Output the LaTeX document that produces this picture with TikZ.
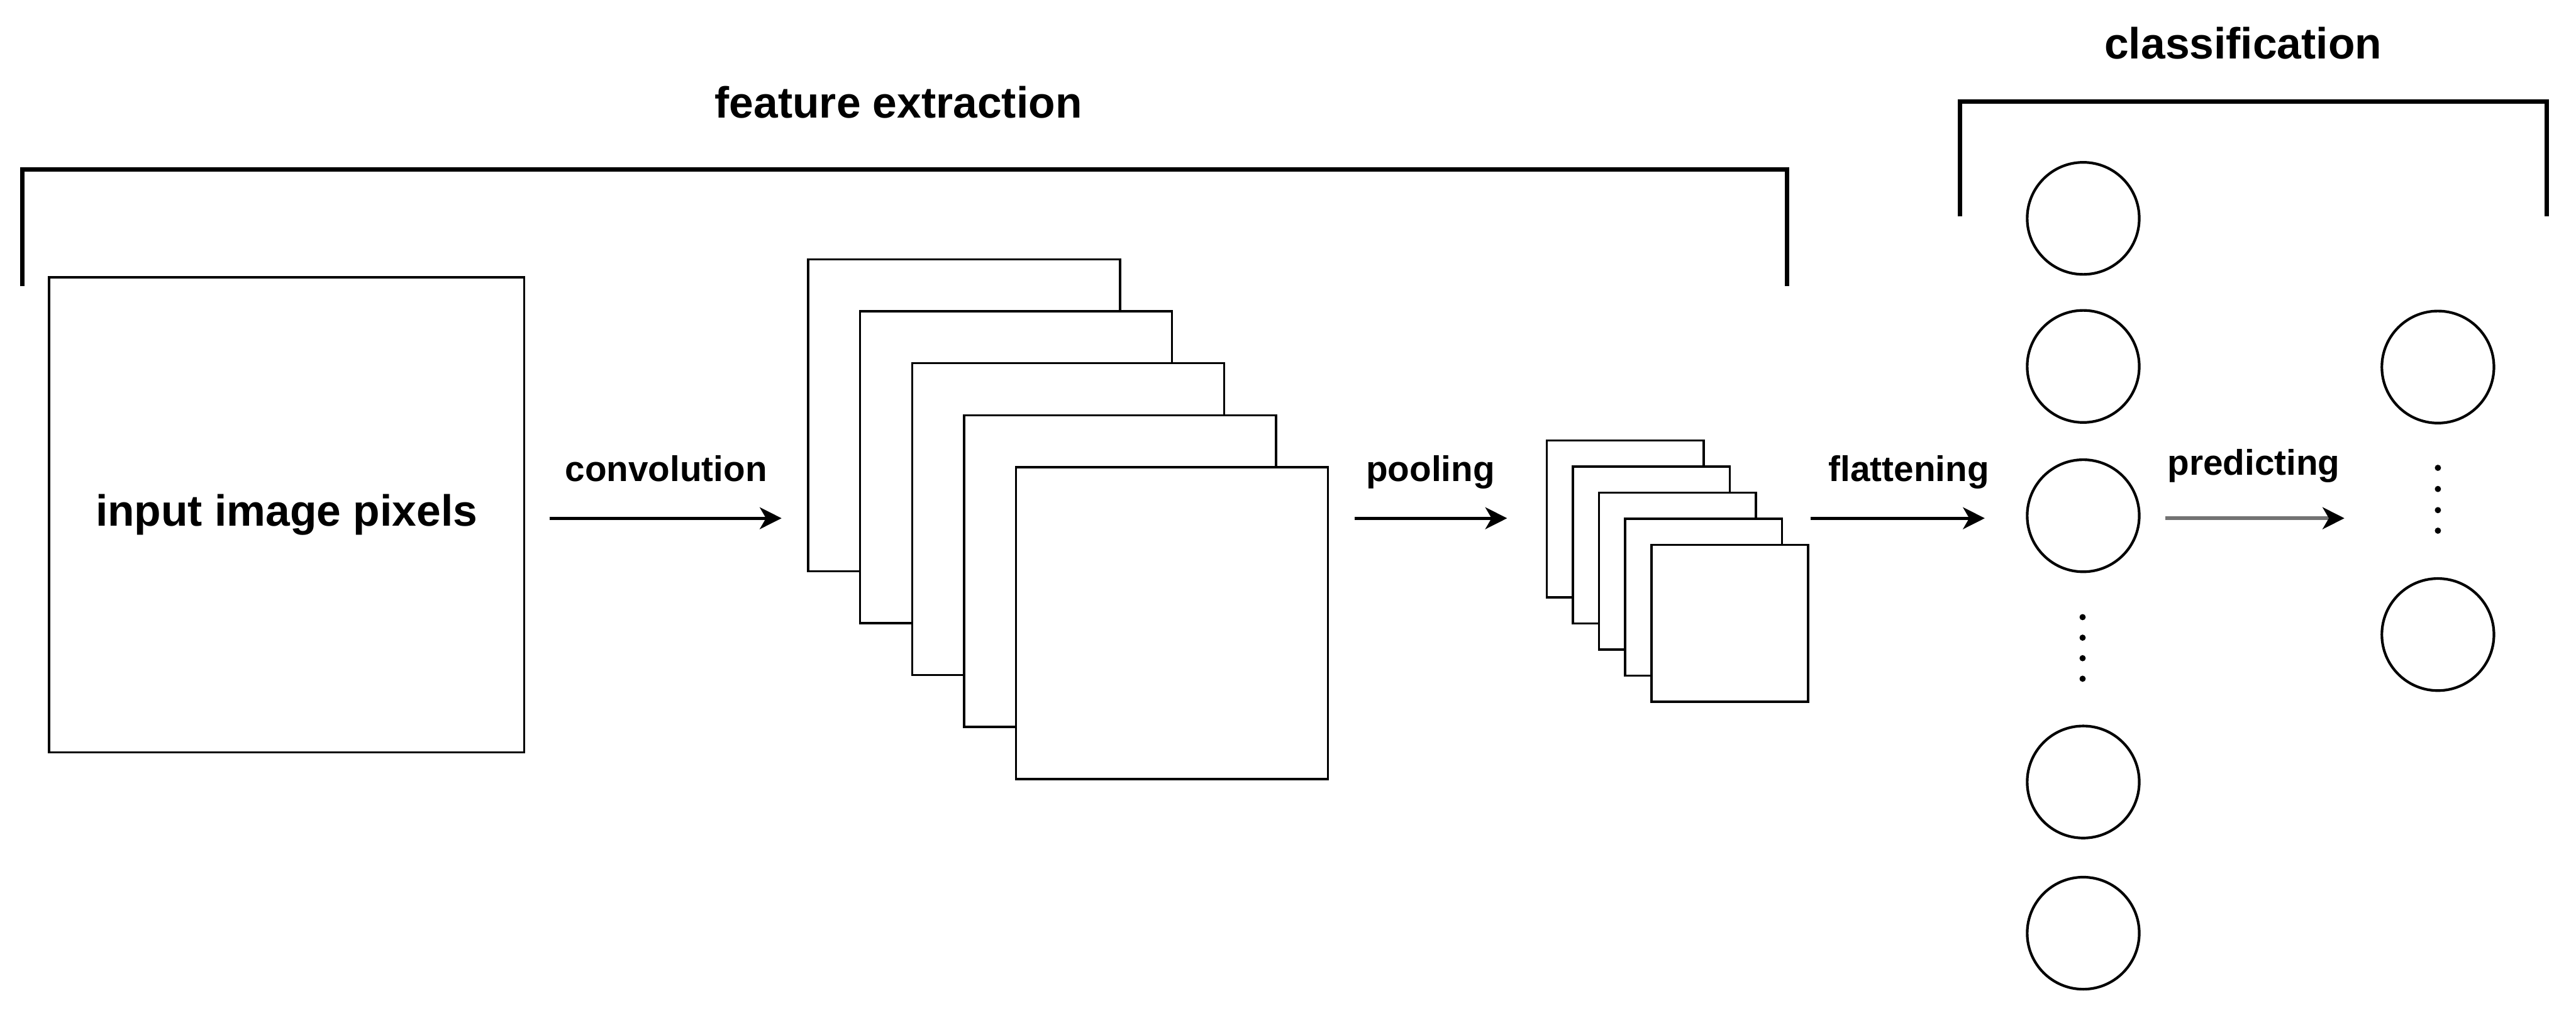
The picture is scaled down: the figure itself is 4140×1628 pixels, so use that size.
\documentclass[tikz,border=0pt]{standalone}
\usepackage{fontspec}
\setmainfont{Liberation Sans}
\usetikzlibrary{arrows.meta,positioning,calc}
\newcommand{\headfont}{\bfseries\fontsize{20}{24}\selectfont}
\newcommand{\opfont}{\bfseries\fontsize{16.3}{19}\selectfont}

\begin{document}
\begin{tikzpicture}[x=0.01cm, y=-0.01cm,
  fmap/.style={draw, fill=white, line width=1pt, minimum size=#1, inner sep=0pt},
  unit/.style={draw, circle, line width=1.2pt, minimum size=1.8cm, inner sep=0pt},
  bracket/.style={line width=2pt},
  op/.style={-{Stealth[length=0.35cm, width=0.35cm, inset=0.1cm, #1]}, line width=1.4pt},
  op/.default={},
  lbl/.style={anchor=base, yshift=#1, font=\opfont},
  lbl/.default=0.59cm,
  head/.style={anchor=base, font=\headfont}]
  \useasboundingbox (0,0) rectangle (4140,1628);
  \node[head] (fe) at (1444,190) {feature extraction};
  \node[head] (cl) at (3605,95) {classification};
  \draw[bracket] (36,460) |- (2872,272) -- (2872,460);
  \draw[bracket] (3150,348) |- (4093,163) -- (4093,348);

  \node[fmap=7.63cm, font=\headfont] (input) at (460.5,827.5) {input image pixels};
  \foreach \i in {0,...,4}
    \node[fmap=5.01cm] (conv\i) at (1549.5+83.5*\i, 667.5+83.5*\i) {};
  \foreach \i in {0,...,4}
    \node[fmap=2.52cm] (pool\i) at (2612+42*\i, 834+42*\i) {};

  \foreach \y [count=\n] in {351,589,829,1257,1500}
    \node[unit] (h\n) at (3348,\y) {};
  \node[unit] (o1) at (3918,590) {};
  \node[unit] (o2) at (3918,1020) {};
  \foreach \y in {992,1025,1058,1091} \fill (3347,\y) circle (0.05cm);
  \foreach \y in {752,786,820,853} \fill (3918,\y) circle (0.05cm);

  \coordinate (row) at (0,833);
  \draw[op, shorten <=0.39cm, shorten >=0.41cm] (input.east |- row) -- node[lbl]{convolution} (conv0.west |- row);
  \draw[op, shorten <=0.41cm, shorten >=0.62cm] (conv4.east |- row) -- node[lbl, xshift=-0.11cm]{pooling} (pool0.west |- row);
  \draw[op, shorten <=0.02cm, shorten >=0.66cm] (pool4.east |- row) -- node[lbl, xshift=-0.14cm]{flattening} (h3.west |- row);
  \draw[op={color=black}, draw=black!55, line width=1.7pt, shorten <=0.40cm, shorten >=0.58cm] (h3.east |- row) -- node[lbl=0.69cm, xshift=-0.11cm]{predicting} (o1.west |- row);
\end{tikzpicture}
\end{document}
